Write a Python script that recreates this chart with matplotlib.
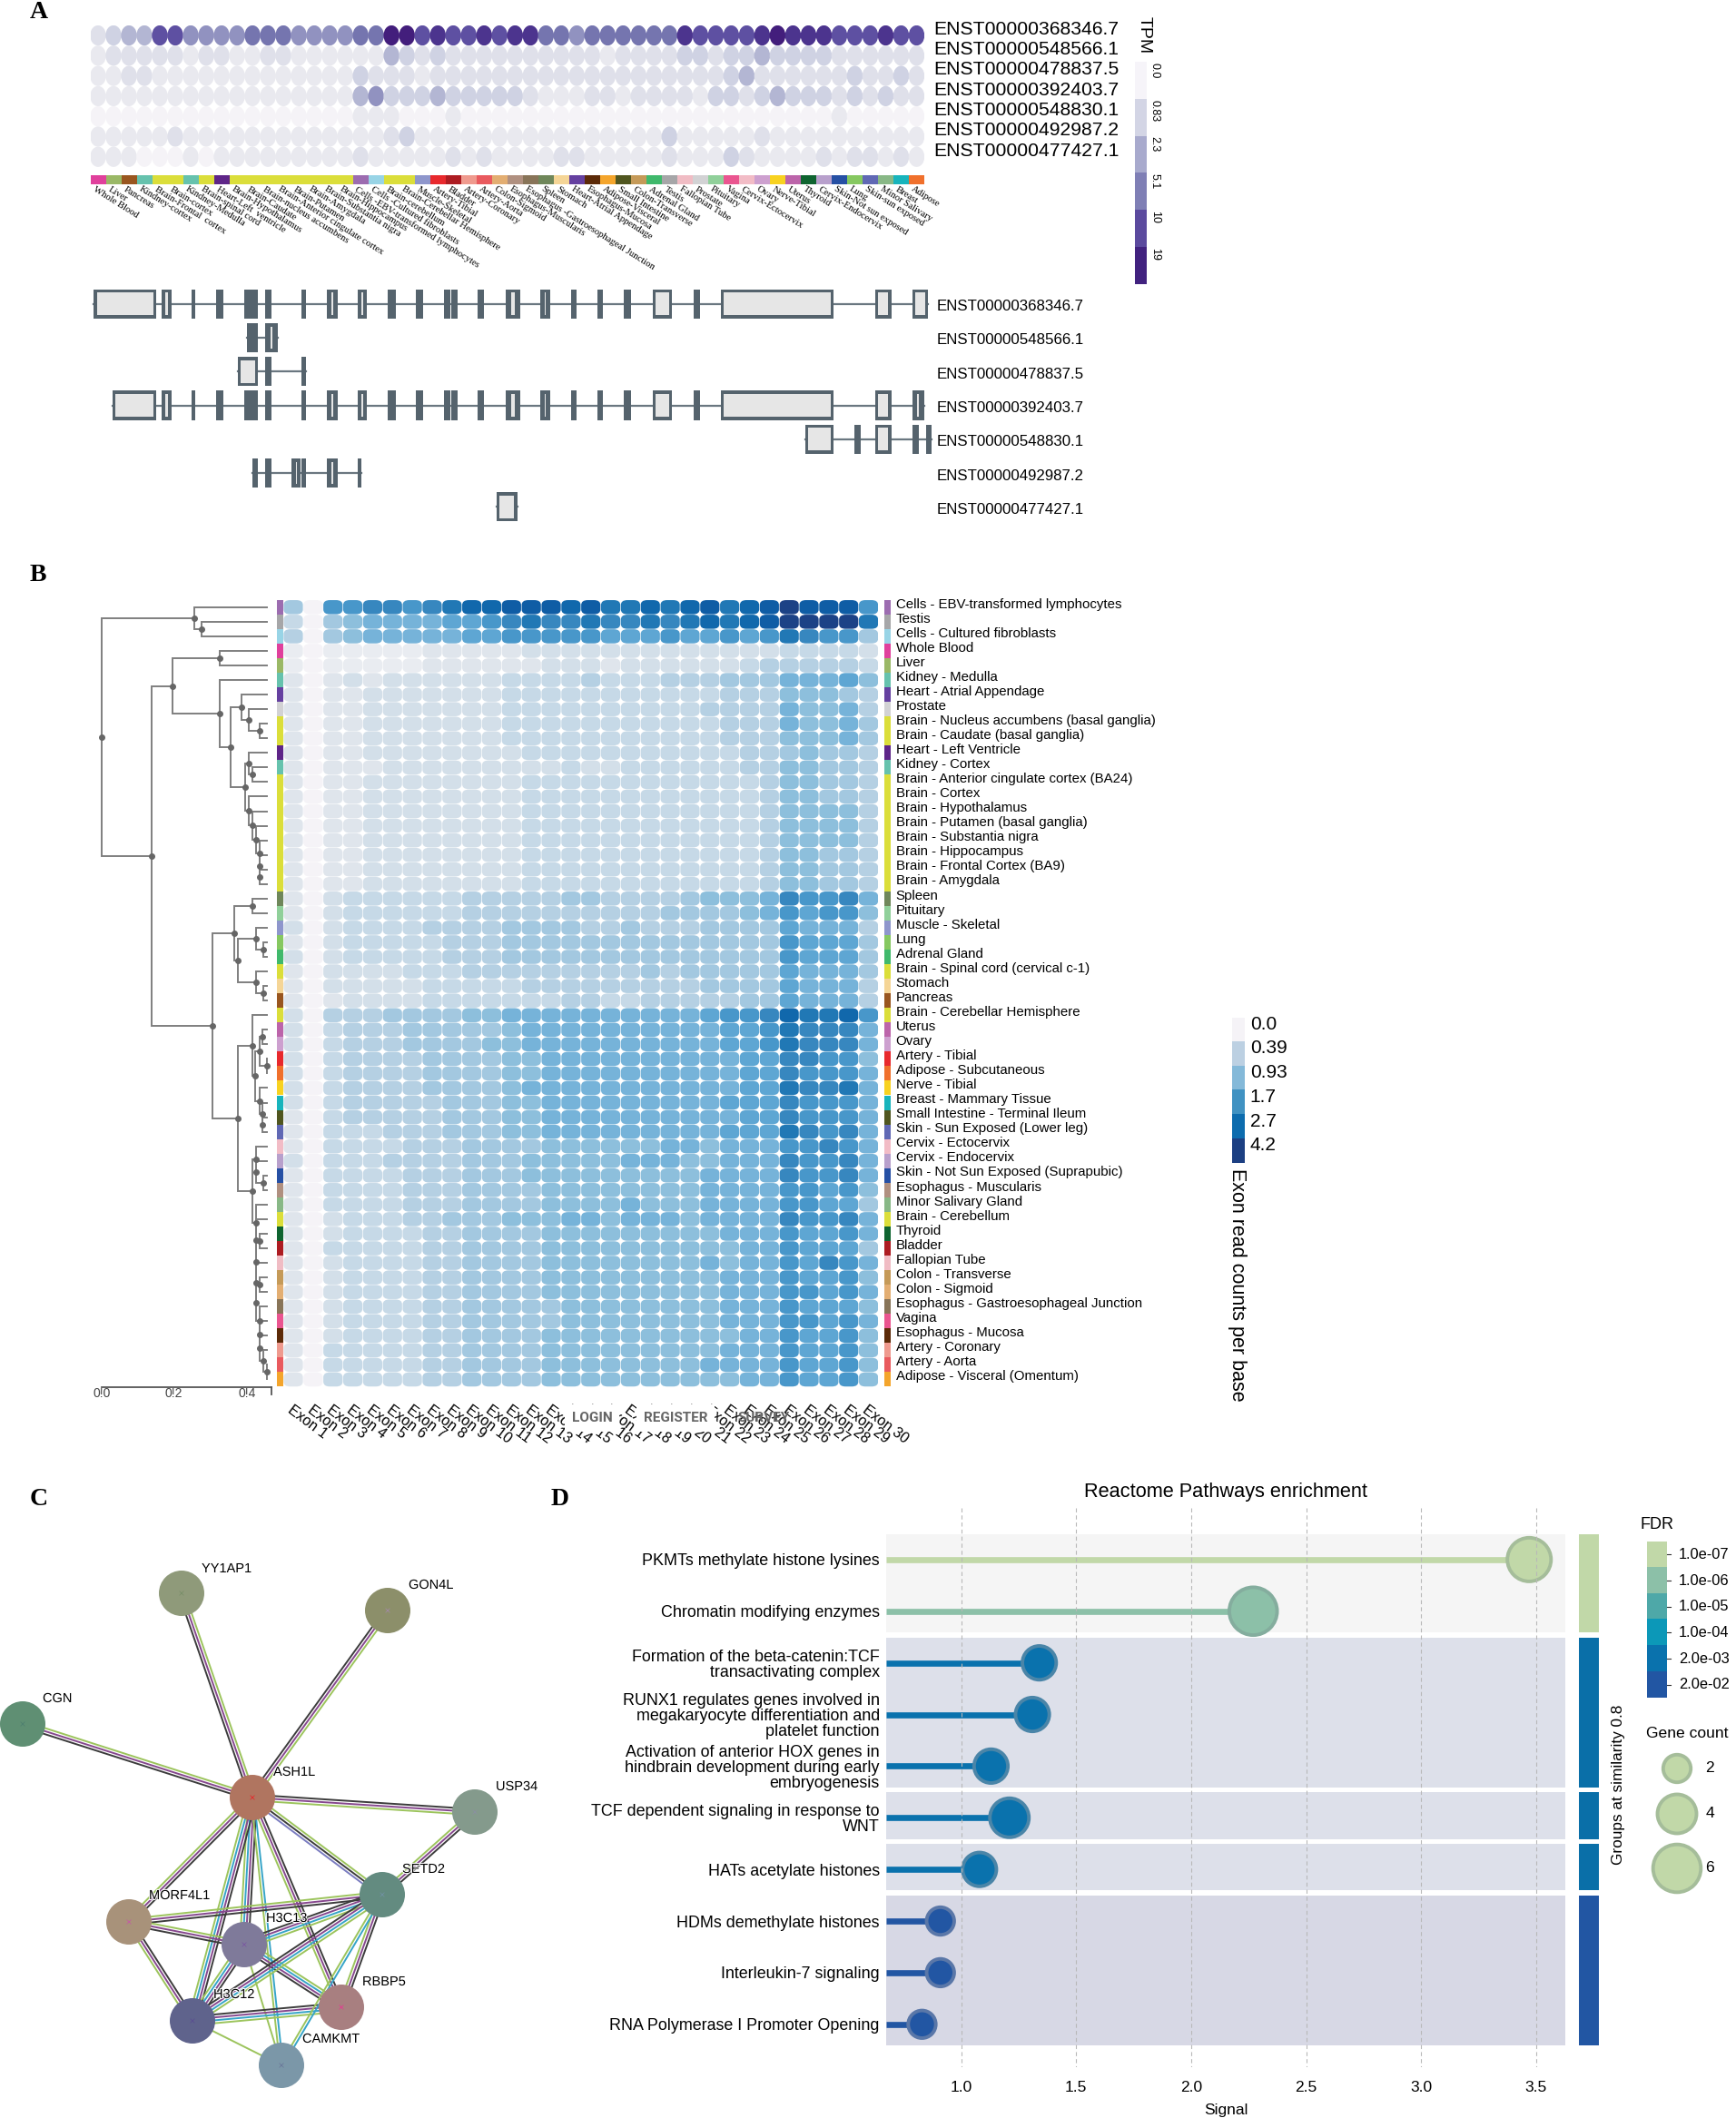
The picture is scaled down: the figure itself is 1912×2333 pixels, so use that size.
import numpy as np
import matplotlib
matplotlib.use("Agg")
import matplotlib.pyplot as plt
import matplotlib.patheffects as pe
from matplotlib.colors import ListedColormap
from matplotlib.patches import Ellipse, FancyBboxPatch, Rectangle

plt.rcParams['font.family'] = ['Liberation Sans', 'DejaVu Sans']

W = 1912
H = 2333

tissue_colors = {
    "Whole Blood": "#e0409c", "Liver": "#9ab866", "Pancreas": "#99561f", "Kidney - Cortex": "#66c2ad",
    "Brain - Frontal Cortex (BA9)": "#dbde3a", "Brain - Cortex": "#dbde3a", "Kidney - Medulla": "#66c2ad",
    "Brain - Spinal cord (cervical c-1)": "#dbde3a", "Heart - Left Ventricle": "#5e2588",
    "Brain - Hypothalamus": "#dbde3a", "Brain - Caudate (basal ganglia)": "#dbde3a",
    "Brain - Nucleus accumbens (basal ganglia)": "#dbde3a", "Brain - Anterior cingulate cortex (BA24)": "#dbde3a",
    "Brain - Putamen (basal ganglia)": "#dbde3a", "Brain - Amygdala": "#dbde3a", "Brain - Substantia nigra": "#dbde3a",
    "Brain - Hippocampus": "#dbde3a", "Cells - EBV-transformed lymphocytes": "#9c6cb0",
    "Cells - Cultured fibroblasts": "#98d4e6", "Brain - Cerebellum": "#dbde3a", "Brain - Cerebellar Hemisphere": "#dbde3a",
    "Muscle - Skeletal": "#8e96cc", "Artery - Tibial": "#e8292d", "Bladder": "#ad1c22", "Artery - Coronary": "#ef9a8e",
    "Artery - Aorta": "#e95a5e", "Colon - Sigmoid": "#e3ae72", "Esophagus - Muscularis": "#b09080",
    "Esophagus - Gastroesophageal Junction": "#887458", "Spleen": "#6f875a", "Stomach": "#f5d596",
    "Heart - Atrial Appendage": "#6540a0", "Esophagus - Mucosa": "#5c2a08", "Adipose - Visceral (Omentum)": "#f4a52c",
    "Small Intestine - Terminal Ileum": "#50561f", "Colon - Transverse": "#c59a58", "Adrenal Gland": "#40b96c",
    "Testis": "#a6a6a8", "Fallopian Tube": "#f0bcc4", "Prostate": "#d2d2d4", "Pituitary": "#90d09a", "Vagina": "#ea5590",
    "Cervix - Ectocervix": "#f2bcc6", "Ovary": "#cda0cf", "Nerve - Tibial": "#f8d220", "Uterus": "#bc64aa",
    "Thyroid": "#0f6430", "Cervix - Endocervix": "#b8a0cc", "Skin - Not Sun Exposed (Suprapubic)": "#2650a4",
    "Lung": "#86c860", "Skin - Sun Exposed (Lower leg)": "#6068b4", "Minor Salivary Gland": "#88b886",
    "Breast - Mammary Tissue": "#18b4bc", "Adipose - Subcutaneous": "#f0702c",
}

# panel A
transcripts = ["ENST00000368346.7", "ENST00000548566.1", "ENST00000478837.5", "ENST00000392403.7",
               "ENST00000548830.1", "ENST00000492987.2", "ENST00000477427.1"]
a_tissues = ["Whole Blood", "Liver", "Pancreas", "Kidney - Cortex", "Brain - Frontal Cortex (BA9)", "Brain - Cortex",
             "Kidney - Medulla", "Brain - Spinal cord (cervical c-1)", "Heart - Left Ventricle", "Brain - Hypothalamus",
             "Brain - Caudate (basal ganglia)", "Brain - Nucleus accumbens (basal ganglia)",
             "Brain - Anterior cingulate cortex (BA24)", "Brain - Putamen (basal ganglia)", "Brain - Amygdala",
             "Brain - Substantia nigra", "Brain - Hippocampus", "Cells - EBV-transformed lymphocytes",
             "Cells - Cultured fibroblasts", "Brain - Cerebellum", "Brain - Cerebellar Hemisphere", "Muscle - Skeletal",
             "Artery - Tibial", "Bladder", "Artery - Coronary", "Artery - Aorta", "Colon - Sigmoid",
             "Esophagus - Muscularis", "Esophagus - Gastroesophageal Junction", "Spleen", "Stomach",
             "Heart - Atrial Appendage", "Esophagus - Mucosa", "Adipose - Visceral (Omentum)",
             "Small Intestine - Terminal Ileum", "Colon - Transverse", "Adrenal Gland", "Testis", "Fallopian Tube",
             "Prostate", "Pituitary", "Vagina", "Cervix - Ectocervix", "Ovary", "Nerve - Tibial", "Uterus", "Thyroid",
             "Cervix - Endocervix", "Skin - Not Sun Exposed (Suprapubic)", "Lung", "Skin - Sun Exposed (Lower leg)",
             "Minor Salivary Gland", "Breast - Mammary Tissue", "Adipose - Subcutaneous"]
a_labels = ["Whole Blood", "Liver", "Pancreas", "Kindney-cortex", "Brain-Frontal  cortex", "Brain-cortex", "Kindney-Medulla",
            "Brain-spinal cord", "Heart-Left  ventricle", "Brain-Hypothalamus", "Brain-Caudate", "Brain-nucleus accumbens",
            "Brain-Anterior cingulate cortex", "Brain-Putamen", "Brain-Amygdala", "Brain-Substantia nigra",
            "Brain-Hippocampus", "Cells -EBV-transformed lymphocytes", "Cells -Cultured fibroblasts", "Brain-cerebellum",
            "Brain-Cerebellar Hemisphere", "Muscle-Skeletal", "Artery-Tibial", "Bladder", "Artery-Coronary", "Artery-Aorta",
            "Colon-Sigmoid", "Esophagus-Muscularis", "Esophagus -Gastroesophageal Junction", "Spleen", "Stomach",
            "Heart-Atrial Appendage", "Esophagus-Mucosa", "Adipose-Visceral", "Small Intestine", "Colon-Transverse",
            "Adrenal Gland", "Testis", "Fallopian Tube", "Prostate", "Pituitary", "Vagina", "Cervix-Ectocervix", "Ovary",
            "Nerve-Tibial", "Uterus", "Thyroid", "Cervix-Endocervix", "Skin-Not sun exposed", "Lung", "Skin-sun exposed",
            "Minor Salivary", "Breast", "Adipose"]
# colour level 0-9 read per cell
tpm_levels = [
    "2344775555666555566" "99" "78778788" "66566666" "68777789" "888777877",
    "1222221221122111111" "43" "23222222" "22221222" "23323343" "333222222",
    "1122111111111111132" "22" "12222222" "22222222" "22223422" "222232232",
    "1111111111111111145" "33" "34333332" "11122122" "22133234" "333232322",
    "0000000000000000011" "10" "00100000" "00000000" "00000000" "000100000",
    "1111121111111111111" "23" "11111111" "11111111" "31111121" "111111111",
    "1110001011111111121" "11" "11212111" "12211111" "21113211" "112122121",
]
tpm_colors = ["#f5f3f7", "#e9e9ef", "#dfe0ea", "#cfd2e3", "#b3b6d3", "#9192c0", "#7575af", "#5e50a2", "#4c348e", "#431e7c"]
tpm_ticks = ["0.0", "0.83", "2.3", "5.1", "10", "19"]
tpm_bar = ["#f6f4f9", "#d3d5e5", "#a8aacd", "#7f7fb5", "#5b4a9e", "#41227f"]

exons = [
    [(68, 176), (185, 203), (236, 243), (279, 292), (328, 351), (364, 374), (426, 435), (471, 489), (523, 540), (575, 589),
     (624, 636), (673, 683), (685, 696), (731, 742), (779, 804), (839, 856), (892, 901), (937, 947), (983, 995), (1033, 1067),
     (1104, 1115), (1151, 1345), (1417, 1445), (1481, 1508)],
    [(332, 351), (364, 386)],
    [(316, 351), (364, 374), (427, 434)],
    [(100, 176), (185, 203), (236, 243), (279, 292), (328, 351), (364, 374), (426, 435), (471, 489), (523, 540), (575, 589),
     (624, 636), (673, 683), (685, 696), (731, 742), (779, 804), (839, 856), (892, 901), (937, 947), (983, 995), (1033, 1067),
     (1104, 1115), (1151, 1345), (1417, 1445), (1481, 1502)],
    [(1296, 1345), (1381, 1392), (1417, 1445), (1481, 1492), (1505, 1515)],
    [(342, 351), (364, 374), (410, 425), (427, 435), (471, 489), (523, 530)],
    [(763, 799)],
]
solid_exons = [(328, 351), (332, 351)]

# panel B
b_tissues = ["Cells - EBV-transformed lymphocytes", "Testis", "Cells - Cultured fibroblasts", "Whole Blood", "Liver",
             "Kidney - Medulla", "Heart - Atrial Appendage", "Prostate", "Brain - Nucleus accumbens (basal ganglia)",
             "Brain - Caudate (basal ganglia)", "Heart - Left Ventricle", "Kidney - Cortex",
             "Brain - Anterior cingulate cortex (BA24)", "Brain - Cortex", "Brain - Hypothalamus",
             "Brain - Putamen (basal ganglia)", "Brain - Substantia nigra", "Brain - Hippocampus",
             "Brain - Frontal Cortex (BA9)", "Brain - Amygdala", "Spleen", "Pituitary", "Muscle - Skeletal", "Lung",
             "Adrenal Gland", "Brain - Spinal cord (cervical c-1)", "Stomach", "Pancreas", "Brain - Cerebellar Hemisphere",
             "Uterus", "Ovary", "Artery - Tibial", "Adipose - Subcutaneous", "Nerve - Tibial", "Breast - Mammary Tissue",
             "Small Intestine - Terminal Ileum", "Skin - Sun Exposed (Lower leg)", "Cervix - Ectocervix", "Cervix - Endocervix",
             "Skin - Not Sun Exposed (Suprapubic)", "Esophagus - Muscularis", "Minor Salivary Gland", "Brain - Cerebellum",
             "Thyroid", "Bladder", "Fallopian Tube", "Colon - Transverse", "Colon - Sigmoid",
             "Esophagus - Gastroesophageal Junction", "Vagina", "Esophagus - Mucosa", "Artery - Coronary", "Artery - Aorta",
             "Adipose - Visceral (Omentum)"]
exon_names = ["Exon %d" % i for i in range(1, 31)]
# colour level 0-f per cell, rows as in b_tissues, columns Exon 1..30
exon_levels = [
    "60aab babcd deeed eccdc decde feeea",
    "40678 88899 abcbb cbbcb cdcde ffffc",
    "50678 88889 9aaaa a999a 99a9a cbaa6",
    "10111 11222 22333 33333 33333 44443",
    "10111 11222 22233 32333 33345 55554",
    "20232 33333 34444 54445 55666 88897",
    "20223 33333 34444 44444 44555 77765",
    "20223 33333 34444 44444 45555 87785",
    "20223 33333 34444 44444 44555 87786",
    "20223 33333 34444 44444 44555 77786",
    "20223 33333 33444 44444 44455 67665",
    "20222 33333 33334 33444 44455 77665",
    "20223 33333 33444 44444 44445 77665",
    "20223 33333 33444 44444 44445 77665",
    "20223 33333 33444 44444 44445 77775",
    "20223 33333 33444 44444 44445 77775",
    "20223 33333 33444 44444 44445 77775",
    "20223 33333 33444 44444 44445 77665",
    "20223 33333 33444 44444 44445 77665",
    "20223 33333 33444 44444 44445 77665",
    "20344 44445 55556 65555 67778 baab8",
    "20344 44445 55555 55556 66678 a9aa7",
    "30344 44555 56666 55655 56666 98885",
    "20344 44455 56666 66666 66666 a9996",
    "30344 44455 56666 66666 66666 a9996",
    "20333 34445 55555 55565 66666 98886",
    "20333 33444 44555 55555 56666 98885",
    "20233 33444 44445 54455 55566 98885",
    "30555 66667 78888 88888 89aab dccda",
    "30455 56666 67888 88888 8899a cbbb8",
    "30455 56666 77888 88888 8899a cbbb8",
    "30455 55666 67788 88888 88899 bbaa7",
    "30455 55666 67788 88888 88899 baaa8",
    "30455 55666 67888 88888 88899 cbbc8",
    "30455 55566 67788 88888 88999 baaa8",
    "20455 55566 67788 88888 88899 baaa8",
    "20444 55566 67788 88888 88999 cbab8",
    "20444 45556 66677 77778 87888 aaba8",
    "30444 55556 66777 77888 77888 baab8",
    "20444 45556 66777 77777 78888 baab8",
    "20444 45556 66677 77777 78888 aa9a7",
    "20444 45556 66677 77877 78888 aa996",
    "20344 45566 67778 87888 78888 baab8",
    "20344 44556 66677 77777 77888 a99a8",
    "20444 44556 66677 77777 77788 a9996",
    "20344 44556 66677 77777 78788 a9ba8",
    "20344 44556 66677 77777 77888 a99a7",
    "20344 44556 66677 77777 77888 aa9a8",
    "20344 44556 66667 77777 77888 a9997",
    "20344 44556 66667 77777 77888 aa9a8",
    "20344 44556 66677 77777 77788 a99a7",
    "20444 44556 66677 77777 77888 a99a7",
    "20444 44556 66677 77777 78888 a99a7",
    "20444 44556 66677 77777 77788 a99a7",
]
exon_colors = ["#f5f3f7", "#e9ecf1", "#dfe5ec", "#d3dfe9", "#c6d9e7", "#b5d0e3", "#a3c8e0", "#8dbfdc", "#76b3d9", "#5ea6d3",
               "#4897ca", "#3787bf", "#2178b5", "#1168ac", "#0f5da5", "#1c4286"]
exon_ticks = ["0.0", "0.39", "0.93", "1.7", "2.7", "4.2"]
exon_bar = ["#f5f3f7", "#bcd0e2", "#84b9d9", "#4092c2", "#0d6cae", "#1c3f82"]

# dendrogram: [distance, child, child], a leaf is its row number
tree = [0.0,
        [0.256, 0, [0.276, 1, 2]],
        [0.137,
         [0.196,
          [0.326, 3, 4],
          [0.326, 5,
           [0.355,
            [0.386, 6, [0.405, 7, [0.435, 8, 9]]],
            [0.396,
             [0.405, 10, [0.416, 11, 12]],
             [0.405, 13, [0.416, 14, [0.425, 15, [0.435, 16, [0.435, 17, [0.435, 18, 19]]]]]]]]]],
         [0.306,
          [0.366,
           [0.416, 20, 21],
           [0.375, [0.425, 22, [0.446, 23, 24]], [0.425, 25, [0.446, 26, 27]]]],
          [0.376,
           [0.416, 28, [0.424, [0.435, [0.444, 29, 30], [0.456, 31, 32]], [0.435, 33, [0.444, 34, [0.444, 35, 36]]]]],
           [0.416,
            [0.426, 37, [0.426, 38, [0.446, 39, 40]]],
            [0.426, 41, [0.426, 42, [0.426, [0.436, 43, 44], [0.426, 45, [0.426, [0.436, 46, 47],
             [0.436, 48, [0.436, 49, [0.436, 50, [0.446, 51, [0.456, 52, 53]]]]]]]]]]]]]]]

# panel C
genes = ["YY1AP1", "GON4L", "CGN", "ASH1L", "USP34", "SETD2", "MORF4L1", "H3C13", "RBBP5", "H3C12", "CAMKMT"]
node_x = [200, 427, 25, 278, 523, 421, 142, 269, 376, 212, 310]
node_y = [1755, 1774, 1899, 1980, 1996, 2087, 2117, 2142, 2211, 2226, 2275]
node_colors = ["#8f9a7a", "#8c8f6a", "#5f8f73", "#b07560", "#849a8c", "#638b80", "#a8927a", "#7f7a9a", "#a87f80", "#5f638c", "#7b97a8"]
node_marks = ["#7a8f6a", "#a08aa0", "#4f8070", "#e03030", "#8a90a0", "#7090a0", "#c060a0", "#7a5aa0", "#e04090", "#5a5090", "#6a7a9a"]
label_x = [222, 450, 47, 301, 546, 443, 164, 293, 399, 235, 333]
label_y = [1728, 1746, 1871, 1952, 1968, 2059, 2088, 2113, 2183, 2197, 2246]
edges = [("ASH1L", "YY1AP1", "kpg"), ("ASH1L", "GON4L", "kpg"), ("ASH1L", "CGN", "kpg"), ("ASH1L", "USP34", "kpg"),
         ("ASH1L", "MORF4L1", "kpg"), ("ASH1L", "H3C13", "kpcg"), ("ASH1L", "H3C12", "kpcg"), ("ASH1L", "CAMKMT", "cg"),
         ("ASH1L", "RBBP5", "kpg"), ("ASH1L", "SETD2", "gkb"), ("USP34", "SETD2", "kpg"), ("MORF4L1", "SETD2", "gpk"),
         ("MORF4L1", "H3C13", "gpk"), ("MORF4L1", "H3C12", "kpg"), ("H3C13", "SETD2", "kpcg"), ("H3C13", "H3C12", "kpcg"),
         ("H3C13", "RBBP5", "gcpk"), ("H3C13", "CAMKMT", "g"), ("H3C12", "SETD2", "kpcg"), ("H3C12", "RBBP5", "kpcg"),
         ("H3C12", "CAMKMT", "g"), ("SETD2", "RBBP5", "kpg"), ("SETD2", "CAMKMT", "cg")]
strand_colors = {"k": "#3c3c3c", "p": "#86488e", "g": "#9cc45c", "c": "#36a4c8", "b": "#7a7cc0"}

# panel D
pathways = ["PKMTs methylate histone lysines", "Chromatin modifying enzymes",
            "Formation of the beta-catenin:TCF\ntransactivating complex",
            "RUNX1 regulates genes involved in\nmegakaryocyte differentiation and\nplatelet function",
            "Activation of anterior HOX genes in\nhindbrain development during early\nembryogenesis",
            "TCF dependent signaling in response to\nWNT", "HATs acetylate histones", "HDMs demethylate histones",
            "Interleukin-7 signaling", "RNA Polymerase I Promoter Opening"]
signal = [3.47, 2.27, 1.34, 1.31, 1.13, 1.21, 1.08, 0.91, 0.91, 0.83]
gene_count = [5, 6, 3, 3, 3, 4, 3, 2, 2, 2]
path_colors = ["#c1d8a8", "#8cc0a8", "#0a72ad", "#0a72ad", "#0a72ad", "#0a72ad", "#0a72ad", "#2256a3", "#2256a3", "#2256a3"]
path_edges = ["#a5bd9a", "#84ad9e", "#4a85a8", "#4a85a8", "#4a85a8", "#4a85a8", "#4a85a8", "#5a77a8", "#5a77a8", "#5a77a8"]
groups = [(0, 1), (2, 4), (5, 5), (6, 6), (7, 9)]
group_bands = ["#f5f5f5", "#dde0ea", "#dde0ea", "#dde0ea", "#d7d8e5"]
group_colors = ["#c1d8a8", "#0a6fa8", "#0a6fa8", "#0a6fa8", "#2256a3"]
fdr_labels = ["1.0e-07", "1.0e-06", "1.0e-05", "1.0e-04", "2.0e-03", "2.0e-02"]
fdr_colors = ["#c1d8a8", "#8cc0a8", "#4ea8a8", "#0c98b8", "#0a72ad", "#2256a3"]
legend_counts = [2, 4, 6]


fig = plt.figure(figsize=(W / 100, H / 100), dpi=100)


def ax_px(x0, y0, x1, y1):
    ax = fig.add_axes([x0 / W, 1 - y1 / H, (x1 - x0) / W, (y1 - y0) / H])
    return ax


def txt(x, y, s, **kw):
    return fig.text(x / W, 1 - y / H, s, **kw)


def discrete_bar(box, colors):
    ax = ax_px(*box)
    ax.imshow(np.arange(len(colors)).reshape(-1, 1), cmap=ListedColormap(colors), aspect="auto",
              extent=(0, 1, len(colors), 0), interpolation="nearest")
    ax.axis("off")
    return ax


for letter, x, y in [("A", 33, 13), ("B", 33, 634), ("C", 33, 1651), ("D", 607, 1651)]:
    txt(x, y, letter, family="Liberation Serif", weight="bold", fontsize=20, va="center")

# ---- A bubbles
ax = ax_px(99.5, 27.9, 1018, 183.9)
ax.set_xlim(-0.5, 53.5)
ax.set_ylim(6.5, -0.5)
ax.axis("off")
for r, row in enumerate(tpm_levels):
    for c, ch in enumerate(row):
        ax.add_patch(Ellipse((c, r), 1.03, 1.0, fc=tpm_colors[int(ch)], ec="none"))
    ax.text(54.1, r - 0.3, transcripts[r], fontsize=15.2, va="center", clip_on=False)

ax = ax_px(99.5, 193, 1018, 203)
ax.bar(range(54), [1] * 54, width=1, color=[tissue_colors[t] for t in a_tissues])
ax.set_xlim(-0.5, 53.5)
ax.set_ylim(0, 1)
ax.axis("off")
for c, name in enumerate(a_labels):
    ax.text(c - 0.3, -0.45, name, family="Liberation Serif", fontsize=7.7, rotation=-32, rotation_mode="anchor",
            ha="left", va="center", clip_on=False)

ax = discrete_bar((1250, 68, 1262, 313), tpm_bar)
for i, t in enumerate(tpm_ticks):
    ax.text(1.3, i + 0.02, t, rotation=-90, fontsize=9, ha="left", va="top", clip_on=False)
txt(1260, 39, "TPM", rotation=-90, fontsize=14, ha="center", va="center")

# ---- A transcripts
ax = ax_px(60, 316, 1060, 577)
ax.set_xlim(0, 1568)
ax.set_ylim(6.5, -0.5)
ax.axis("off")
for r, ex in enumerate(exons):
    ax.plot([ex[0][0], ex[-1][1]], [r, r], color="#6a7780", lw=1.6, zorder=1)
    for s, e in ex:
        w = e - s
        ax.add_patch(Rectangle((s, r - 0.43), w, 0.86, fc="#55636d", ec="none", zorder=2))
        inset = 7 if w <= 20 else (9 if w <= 26 else 5)
        if w - 2 * inset > 0 and (s, e) not in solid_exons:
            ax.add_patch(Rectangle((s + inset, r - 0.33), w - 2 * inset, 0.66, fc="#e6e6e6", ec="none", zorder=3))
    ax.text(1523, r + 0.08, transcripts[r], fontsize=12.2, va="center")

# ---- B heatmap
ax = ax_px(312.1, 660.8, 967.5, 1527.5)
ax.set_xlim(-0.5, 29.5)
ax.set_ylim(53.5, -0.5)
for r, row in enumerate(exon_levels):
    row = row.replace(" ", "")
    for c, ch in enumerate(row):
        ax.add_patch(FancyBboxPatch((c - 0.485, r - 0.485), 0.97, 0.97, boxstyle="round,pad=0,rounding_size=0.33",
                                    fc=exon_colors[int(ch, 16)], ec="none"))
for s in ax.spines.values():
    s.set_visible(False)
ax.set_yticks([])
ax.set_xticks(range(30))
ax.set_xticklabels(exon_names, rotation=-37, rotation_mode="anchor", ha="left", va="top", fontsize=11.5)
ax.tick_params(axis="x", length=0, pad=13)

strip_colors = [tissue_colors[t] for t in b_tissues]
ax = ax_px(304.5, 660.8, 312, 1527.5)
ax.barh(range(54), [1] * 54, height=1, color=strip_colors)
ax.set_xlim(0, 1)
ax.set_ylim(53.5, -0.5)
ax.axis("off")

ax = ax_px(974, 660.8, 981, 1527.5)
ax.barh(range(54), [1] * 54, height=1, color=strip_colors)
ax.set_xlim(0, 1)
ax.set_ylim(53.5, -0.5)
ax.set_xticks([])
ax.yaxis.tick_right()
ax.set_yticks(np.arange(54) - 0.3)
ax.set_yticklabels(b_tissues, fontsize=10.85)
ax.tick_params(axis="y", length=0, pad=4)
for s in ax.spines.values():
    s.set_visible(False)

# dendrogram
ax = ax_px(111.7, 660.8, 299, 1527.5)
ax.set_xlim(0, 0.468)
ax.set_ylim(53.5, -0.5)
for side in ["top", "left", "right"]:
    ax.spines[side].set_visible(False)
ax.spines["bottom"].set_color("#555555")
ax.spines["bottom"].set_linewidth(1.3)
ax.set_yticks([])
ax.set_xticks([0, 0.2, 0.4])
ax.set_xticklabels(["0!0", "0!2", "0!4"], fontsize=10, color="#444444")
ax.tick_params(axis="x", length=0, pad=0.5)
ax.plot([0.468, 0.468], [53.5, 54.0], color="#555555", lw=1.3, clip_on=False)


def draw_tree(node):
    if isinstance(node, int):
        return 0.456, node
    d, a, b = node
    xa, ya = draw_tree(a)
    xb, yb = draw_tree(b)
    ax.plot([xa, d, d, xb], [ya, ya, yb, yb], color="#7f7f7f", lw=1.4, solid_joinstyle="miter", clip_on=False, zorder=2)
    y = (ya + yb) / 2
    ax.scatter([d], [y], s=16, color="#666666", zorder=3, clip_on=False)
    return d, y


draw_tree(tree)

# site menu left over the exon labels
txt(652, 1562, "LOGIN", family="Roboto", weight="bold", fontsize=11, color="#666666", ha="center", va="center",
    bbox=dict(fc="white", ec="none", pad=5.5), zorder=5)
txt(744, 1562, "REGISTER", family="Roboto", weight="bold", fontsize=11, color="#666666", ha="center", va="center",
    bbox=dict(fc="white", ec="none", pad=5.5), zorder=5)
txt(841, 1562, "SURVEY", family="Roboto", weight="bold", fontsize=11, color="#666666", ha="center", va="center", zorder=5)

ax = discrete_bar((1356.7, 1120.7, 1370, 1281), exon_bar)
for i, t in enumerate(exon_ticks):
    ax.text(1.5, i + 0.28, t, fontsize=15, va="center", clip_on=False)
txt(1363, 1415, "Exon read counts per base", rotation=-90, fontsize=15.5, ha="center", va="center")

# ---- C network
ax = ax_px(0, 1690, 600, 2333)
ax.set_xlim(0, 600)
ax.set_ylim(2333, 1690)
ax.axis("off")
for a, b, strands in edges:
    i, j = genes.index(a), genes.index(b)
    p = np.array([node_x[i], node_y[i]], dtype=float)
    q = np.array([node_x[j], node_y[j]], dtype=float)
    n = np.array([-(q - p)[1], (q - p)[0]]) / np.hypot(*(q - p))
    for k, st in enumerate(strands):
        off = n * (k - (len(strands) - 1) / 2) * 3.2
        ax.plot([p[0] + off[0], q[0] + off[0]], [p[1] + off[1], q[1] + off[1]], color=strand_colors[st], lw=1.4, zorder=1)
ax.scatter(node_x, node_y, s=(50 * 0.72) ** 2, c=node_colors, linewidths=0, zorder=3)
ax.scatter(node_x, node_y, s=12, c=node_marks, marker="x", linewidths=0.6, zorder=4)
for g, x, y in zip(genes, label_x, label_y):
    ax.text(x, y, g, fontsize=10.5, va="center", zorder=5, path_effects=[pe.withStroke(linewidth=1.5, foreground="white")])

# ---- D lollipops
ax = ax_px(975.7, 1661, 1761, 2277)
ax.set_xlim(0.673, 3.773)
ax.set_ylim(9.83, -1.0)
for (a, b), col, strip in zip(groups, group_bands, group_colors):
    ax.add_patch(Rectangle((0.673, a - 0.49), 2.954, b - a + 0.9, fc=col, ec="none", zorder=0))
    ax.add_patch(Rectangle((3.687, a - 0.49), 0.086, b - a + 0.9, fc=strip, ec="none", zorder=0))
rows = np.arange(len(pathways))
ax.hlines(rows, 0.673, signal, colors=path_colors, lw=4.8, zorder=2)
ax.scatter(signal, rows, s=[(21.5 * n ** 0.5 * 0.72) ** 2 for n in gene_count], c=path_colors, edgecolors=path_edges,
           linewidths=2.8, zorder=3)
ax.vlines([1.0, 1.5, 2.0, 2.5, 3.0, 3.5], -1.0, 9.83, colors="#b8b8b8", linestyles=(0, (4, 3)), lw=0.8, zorder=4)
for s in ax.spines.values():
    s.set_visible(False)
ax.set_xticks([1.0, 1.5, 2.0, 2.5, 3.0, 3.5])
ax.set_xticklabels(["1.0", "1.5", "2.0", "2.5", "3.0", "3.5"], fontsize=12.5)
ax.set_yticks(rows)
ax.set_yticklabels(pathways, fontsize=12.9, linespacing=1.0, multialignment="right")
ax.tick_params(axis="x", length=0, pad=11)
ax.tick_params(axis="y", length=0, pad=5)
txt(1350, 1643, "Reactome Pathways enrichment", fontsize=15.7, ha="center", va="center")
txt(1350, 2324, "Signal", fontsize=12.6, ha="center", va="center")
txt(1782, 1966, "Groups at similarity 0.8", fontsize=12.4, rotation=90, ha="center", va="center")

txt(1807, 1680, "FDR", fontsize=13, va="center")
ax = discrete_bar((1814, 1698, 1836, 1870), fdr_colors)
for i, t in enumerate(fdr_labels):
    ax.plot([1.0, 1.2], [i + 0.5, i + 0.5], color="#333333", lw=0.8, clip_on=False)
    ax.text(1.6, i + 0.5, t, fontsize=11.8, va="center", clip_on=False)
ax.set_xlim(0, 1)
ax.set_ylim(6, 0)

txt(1813, 1910, "Gene count", fontsize=12.6, va="center")
ax = ax_px(1810, 1920, 1900, 2090)
ax.set_xlim(1810, 1900)
ax.set_ylim(2090, 1920)
ax.axis("off")
ax.scatter([1847] * 3, [1948, 1998, 2058], s=[(21.5 * n ** 0.5 * 0.72) ** 2 for n in legend_counts], c="#c1d8a8",
           edgecolors="#a5bd9a", linewidths=2.8)
for n, y in zip(legend_counts, [1948, 1998, 2058]):
    ax.text(1883, y, str(n), fontsize=12.6, ha="center", va="center")

fig.savefig("out.png", dpi=100)
